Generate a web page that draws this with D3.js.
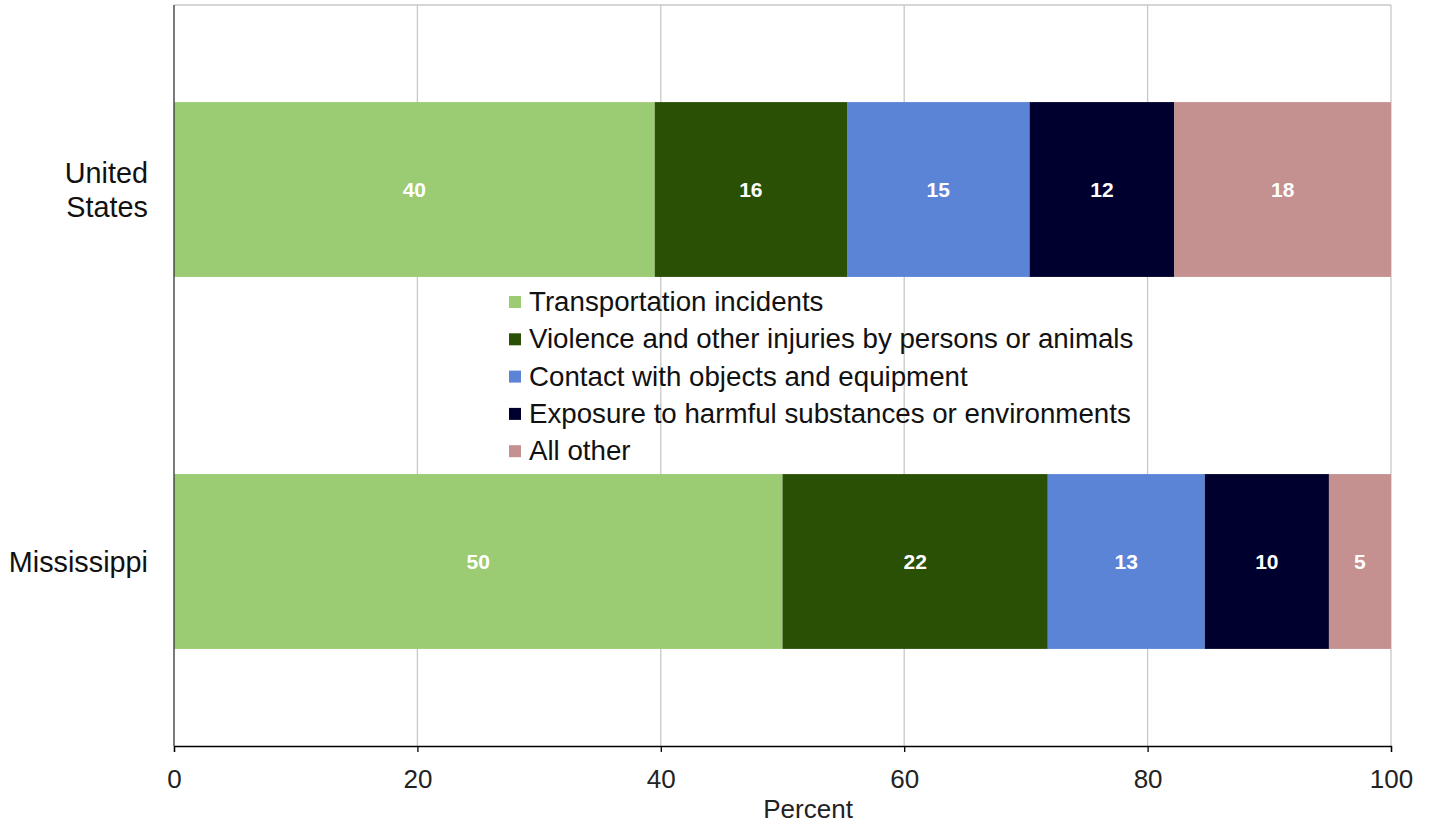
<!DOCTYPE html>
<html><head><meta charset="utf-8">
<script src="https://cdn.jsdelivr.net/npm/d3@7"></script>
<style>body{margin:0;background:#fff;} svg{display:block;font-family:"Liberation Sans",Arial,sans-serif;}</style>
</head><body>
<svg id="c" width="1430" height="825"></svg>
<script>
const categories = ["United States", "Mississippi"];
const seriesNames = ["Transportation incidents", "Violence and other injuries by persons or animals", "Contact with objects and equipment", "Exposure to harmful substances or environments", "All other"];
const seriesColors = ["#9bcb72", "#2a5006", "#5b84d6", "#00002e", "#c49190"];
const usValues = [39.5, 15.8, 15.0, 11.9, 17.8];
const msValues = [50.0, 21.8, 12.9, 10.2, 5.1];
const tickValues = [0, 20, 40, 60, 80, 100];
const xTitle = "Percent";

const rows = [usValues, msValues];
const svg = d3.select("#c");
const L = 174, R = 1391, T = 5, B = 746;
const x = d3.scaleLinear().domain([0, 100]).range([L, R]);
const y = d3.scaleBand().domain(categories).range([T, B]).paddingInner(0.53).paddingOuter(0.261);

// gridlines
svg.append("g").selectAll("line").data(tickValues.filter(d => d > 0)).join("line")
  .attr("x1", d => x(d)).attr("x2", d => x(d)).attr("y1", T).attr("y2", B)
  .attr("stroke", "#c8c8c8").attr("stroke-width", 1.3);
// top border
svg.append("line").attr("x1", L).attr("x2", R).attr("y1", T).attr("y2", T).attr("stroke", "#c8c8c8").attr("stroke-width", 1.3);

// bars
const stackData = categories.map((c, i) => {
  let acc = 0;
  return rows[i].map((v, j) => { const s = {cat: c, j, x0: acc, x1: acc + v, v}; acc += v; return s; });
});
const g = svg.append("g");
stackData.forEach(row => {
  g.selectAll(null).data(row).join("rect")
    .attr("x", d => x(d.x0)).attr("width", d => x(d.x1) - x(d.x0))
    .attr("y", d => y(d.cat)).attr("height", y.bandwidth())
    .attr("fill", d => seriesColors[d.j]);
  g.selectAll(null).data(row).join("text")
    .attr("x", d => (x(d.x0) + x(d.x1)) / 2).attr("y", d => y(d.cat) + y.bandwidth() / 2)
    .attr("dy", "0.36em").attr("text-anchor", "middle")
    .attr("fill", "#fff").attr("font-weight", "bold").attr("font-size", 21)
    .text(d => Math.round(d.v));
});

// x axis
const xa = svg.append("g").attr("transform", `translate(0,${B})`)
  .call(d3.axisBottom(x).tickValues(tickValues).tickSize(6).tickPadding(18));
xa.select(".domain").attr("stroke", "#000").attr("stroke-width", 1.3);
xa.selectAll(".tick line").attr("stroke", "#000").attr("stroke-width", 1.3);
xa.selectAll(".tick text").attr("font-size", 26).attr("fill", "#222").attr("font-family", "Liberation Sans, Arial, sans-serif");

// y axis line
svg.append("line").attr("x1", L).attr("x2", L).attr("y1", T).attr("y2", B).attr("stroke", "#333").attr("stroke-width", 1.3);

// category labels
categories.forEach(c => {
  const words = c === "United States" ? ["United", "States"] : [c];
  const cy = y(c) + y.bandwidth() / 2;
  const lh = 34;
  const t = svg.append("text").attr("text-anchor", "end").attr("font-size", 28.8).attr("fill", "#111");
  words.forEach((w, i) => {
    t.append("tspan").attr("x", 148).attr("y", cy + (i - (words.length - 1) / 2) * lh).attr("dy", "0.36em").text(w);
  });
});

// x title
svg.append("text").attr("x", x(52.1)).attr("y", 818).attr("text-anchor", "middle")
  .attr("font-size", 26).attr("fill", "#222").text(xTitle);

// legend
const lg = svg.append("g").attr("transform", "translate(509,301)");
seriesNames.forEach((n, i) => {
  const row = lg.append("g").attr("transform", `translate(0,${i * 37.3})`);
  row.append("rect").attr("x", 0).attr("y", -5).attr("width", 12).attr("height", 12).attr("fill", seriesColors[i]);
  row.append("text").attr("x", 20).attr("y", 0).attr("dy", "0.36em").attr("font-size", 27.7).attr("fill", "#111").text(n);
});
</script>
</body></html>
